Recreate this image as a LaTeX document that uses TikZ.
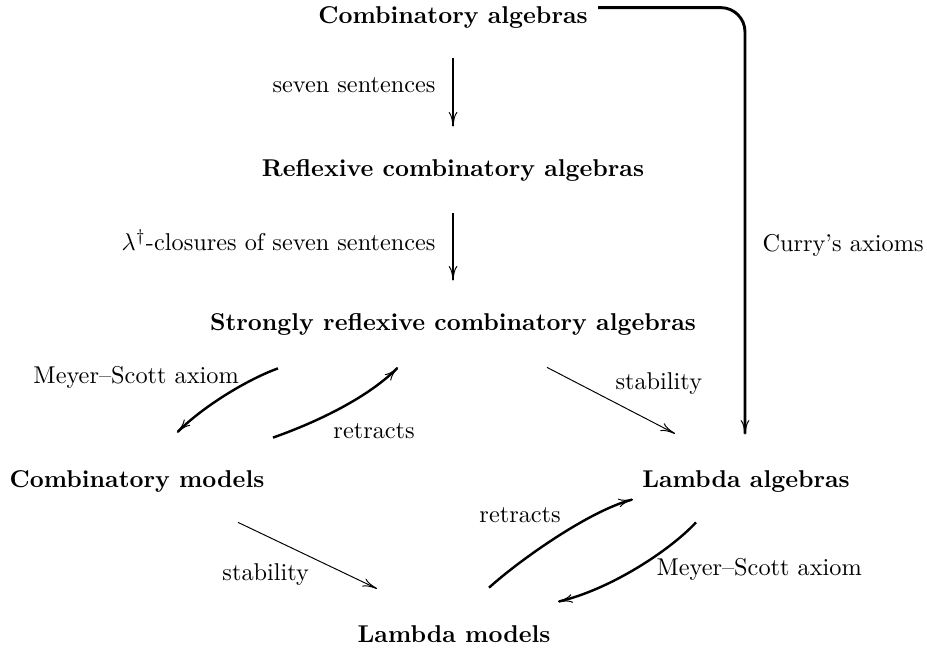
\documentclass[tikz,border=0pt]{standalone}
\usetikzlibrary{arrows.meta,calc}
\begin{document}
\begin{tikzpicture}[x=0.4115pt,y=-0.4115pt,
  obj/.style={font=\bfseries, inner sep=0pt, anchor=base},
  lab/.style={inner sep=0pt},
  tip/.style={-{To[length=6pt,width=3.6pt,line width=0.4pt]}},
  thickarr/.style={tip, line width=1.2pt},
  curvarr/.style={tip, line width=1pt},
  thinarr/.style={tip, line width=0.4pt}]
\useasboundingbox (0,0) rectangle (927,649);
% objects
\node[obj] (ca)   at (453,23)  {Combinatory algebras};
\node[obj] (rca)  at (453,176) {Reflexive combinatory algebras};
\node[obj] (srca) at (453,330) {Strongly reflexive combinatory algebras};
\node[obj] (cm)   at (137,487) {Combinatory models};
\node[obj] (la)   at (746,487) {Lambda algebras};
\node[obj] (lm)   at (454,642) {Lambda models};
% labels
\node[lab, anchor=base east] (l1) at (436,92)  {seven sentences};
\node[lab, anchor=base east] (l2) at (436,250) {$\lambda^\dagger$-closures of seven sentences};
\node[lab, anchor=base west] (l3) at (762,251) {Curry's axioms};
\node[lab, anchor=base west] (l4) at (33,383)  {Meyer--Scott axiom};
\node[lab, anchor=base west] (l5) at (333,438) {retracts};
\node[lab, anchor=base west] (l6) at (615,389) {stability};
\node[lab, anchor=base west] (l7) at (222,580) {stability};
\node[lab, anchor=base west] (l8) at (479,522) {retracts};
\node[lab, anchor=base west] (l9) at (656,575) {Meyer--Scott axiom};
% vertical arrows
\draw[thickarr] ($(ca.south)+(0,30)$) -- ($(rca.north)+(0,-32)$);
\draw[thickarr] ($(rca.south)+(0,32)$) -- ($(srca.north)+(0,-32)$);
% Curry's axioms
\draw[thickarr, rounded corners=10pt] ($(ca.north east)+(10,2)$) -| ($(la.north)+(-1,-35)$);
% stability arrows
\draw[thinarr] ($(srca.south)+(94,32)$) -- ($(la.north)+(-71,-36)$);
\draw[thinarr] ($(cm.south)+(101,30)$) -- ($(lm.north)+(-77,-36)$);
% curved arrows
\draw[curvarr] ($(srca.south)+(-175,33)$) .. controls +(-28,10) and +(28,-28) .. ($(cm.north)+(40,-37)$);
\draw[curvarr] ($(cm.north)+(136,-32)$) .. controls +(37,-13) and +(-33,33) .. ($(srca.south)+(-55,32)$);
\draw[curvarr] ($(lm.north)+(35,-37)$) .. controls +(31,-28) and +(-43,11) .. ($(la.south)+(-113,7)$);
\draw[curvarr] ($(la.south)+(-50,30)$) .. controls +(-26,28) and +(52,-12) .. ($(lm.north)+(104,-23)$);
\end{tikzpicture}
\end{document}
